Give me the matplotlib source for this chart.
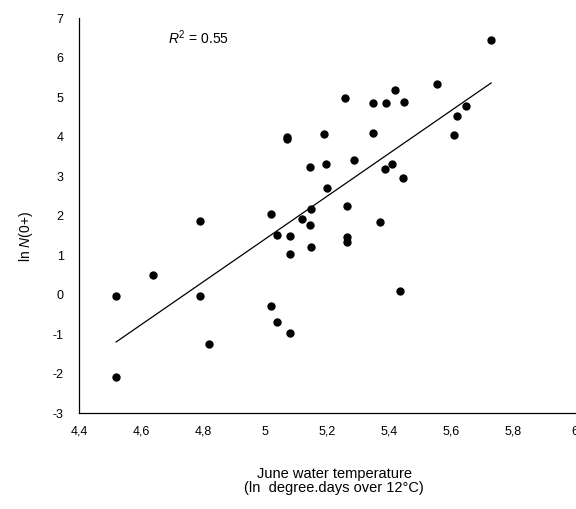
import matplotlib
matplotlib.use("Agg")
import matplotlib.pyplot as plt

plt.rcParams["font.family"] = ["Liberation Sans", "DejaVu Sans"]
plt.rcParams["mathtext.fontset"] = "custom"
plt.rcParams["mathtext.it"] = "Liberation Sans:italic"
plt.rcParams["mathtext.rm"] = "Liberation Sans"

# ── data ─────────────────────────────────────────────────────────────────
temp_ln = [
    4.52, 4.52, 4.64, 4.79, 4.82, 4.79,
    5.02, 5.04, 5.08, 5.08, 5.04, 5.08, 5.02, 5.07, 5.07,
    5.73, 5.555, 5.42, 5.26, 5.35, 5.39, 5.45, 5.65, 5.62, 5.61,
    5.19, 5.35, 5.145, 5.197, 5.287, 5.41, 5.387, 5.445, 5.20,
    5.148, 5.264, 5.12, 5.145, 5.37, 5.265, 5.265, 5.148, 5.435,
]
ln_n0 = [
    -0.05, -2.10, 0.50, -0.03, -1.25, 1.85,
    -0.28, -0.70, -0.98, 1.03, 1.50, 1.48, 2.05, 3.93, 4.00,
    6.45, 5.33, 5.18, 4.97, 4.85, 4.85, 4.88, 4.78, 4.53, 4.05,
    4.07, 4.10, 3.23, 3.30, 3.40, 3.30, 3.17, 2.95, 2.70,
    2.17, 2.25, 1.90, 1.75, 1.83, 1.45, 1.33, 1.20, 0.10,
]
fit_slope = 5.42
fit_intercept = -25.70
r_squared = "0.55"

x_ticks = [4.4, 4.6, 4.8, 5.0, 5.2, 5.4, 5.6, 5.8, 6.0]
x_tick_labels = ["4,4", "4,6", "4,8", "5", "5,2", "5,4", "5,6", "5,8", "6"]
y_ticks = [-3, -2, -1, 0, 1, 2, 3, 4, 5, 6, 7]
y_tick_labels = [str(v) for v in y_ticks]

# ── figure ───────────────────────────────────────────────────────────────
fig = plt.figure(figsize=(5.76, 5.09), dpi=100)
ax = fig.add_axes([0.137, 0.1886, 0.861, 0.776])

ax.plot(temp_ln, ln_n0, "o", color="black", markersize=6, markeredgewidth=0)

x0, x1 = min(temp_ln), max(temp_ln)
ax.plot([x0, x1], [fit_slope * x0 + fit_intercept, fit_slope * x1 + fit_intercept],
        color="black", linewidth=0.9)

ax.set_xlim(4.4, 6.0)
ax.set_ylim(-3, 7)
ax.set_xticks(x_ticks)
ax.set_xticklabels(x_tick_labels)
ax.set_yticks(y_ticks)
ax.set_yticklabels(y_tick_labels)
ax.tick_params(axis="both", length=0, labelsize=9)
ax.tick_params(axis="y", pad=11)
ax.tick_params(axis="x", pad=9)

for side in ("top", "right"):
    ax.spines[side].set_visible(False)
for side in ("left", "bottom"):
    ax.spines[side].set_linewidth(0.9)

ax.text(4.687, 6.5, r"$R^2$ = " + r_squared, fontsize=10, va="center", ha="left")

fig.text(0.045, 0.535, r"ln $N(0{+})$", rotation=90, fontsize=10,
         ha="center", va="center")
fig.text(0.58, 0.055, "June water temperature\n(ln  degree.days over 12°C)",
         fontsize=10.5, ha="center", va="center", linespacing=1.0)

fig.savefig("out.png", dpi=100)
